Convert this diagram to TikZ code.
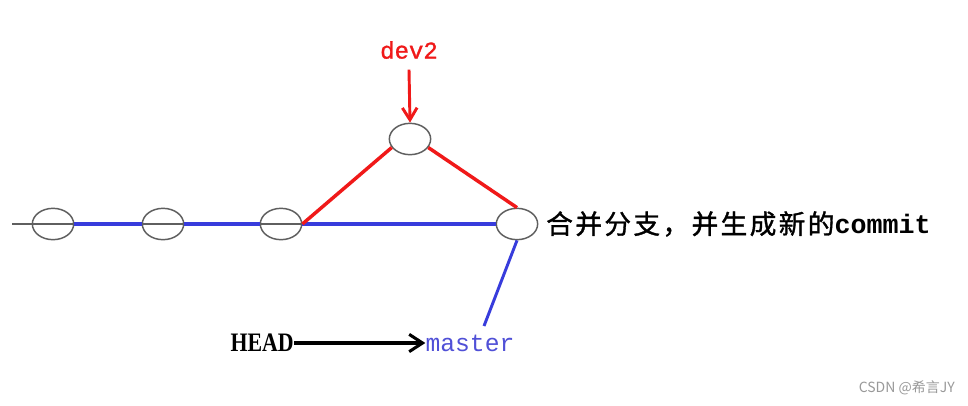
\documentclass[tikz,border=0pt]{standalone}
\usepackage{fontspec}
\usetikzlibrary{shapes.geometric,arrows.meta}
\newfontfamily\cjkf[LetterSpace=9,FakeBold=1.3]{Noto Sans CJK SC}
\newfontfamily\wmf{Noto Sans CJK SC}
\newfontfamily\monof{Liberation Mono}
\newfontfamily\monofb[FakeBold=1.2]{Liberation Mono}
\newfontfamily\serbf{Liberation Serif}
\definecolor{cblue}{RGB}{55,60,220}
\definecolor{cred}{RGB}{240,25,25}
\definecolor{cgray}{RGB}{95,95,95}
\definecolor{mblue}{RGB}{80,80,215}
\begin{document}
\begin{tikzpicture}[x=0.75pt,y=-0.75pt,
  commitnode/.style={ellipse,draw=cgray,line width=1.1pt,fill=none,minimum width=31pt,minimum height=23.5pt,inner sep=0pt},
  blueline/.style={cblue,line width=2.6pt},
  redline/.style={cred,line width=2.6pt},
  grayline/.style={cgray,line width=1pt}]
\useasboundingbox (0,0) rectangle (968,405);
\fill[white] (0,0) rectangle (968,405);
% commits
\node[commitnode] (c1) at (53,224) {};
\node[commitnode] (c2) at (163,224) {};
\node[commitnode] (c3) at (281,224) {};
\node[commitnode] (c4) at (410,139) {};
\node[commitnode] (c5) at (517,224) {};
\coordinate (start) at (12,224);
% main line
\draw[grayline] (start) -- (c3.east);
\draw[blueline] (c1.east) -- (c2.west);
\draw[blueline] (c2.east) -- (c3.west);
\draw[blueline] (c3.east) -- (c5.west);
% branch
\draw[redline] (c3.east) -- (c4.205);
\draw[redline] (c4.-25) -- (c5.north);
% labels
\node[text=cred,font={\monofb\fontsize{18pt}{20pt}\selectfont}] (dev) at (409,50) {dev2};
\draw[cred,line width=2.2pt,-{Straight Barb[length=9pt,width=11pt,line width=2.2pt]}] (dev.south) ++(0,6) coordinate (d1) (d1) -- (c4.north);
\node[anchor=west,inner sep=0pt,font={\fontsize{20pt}{22pt}\selectfont}] (msg) at (546,224) {{\cjkf 合并分支，并生成新的}{\monof\bfseries commit}};
\node[text=mblue,inner sep=0pt,font={\monof\fontsize{18.5pt}{20pt}\selectfont}] (master) at (470,343) {master};
\coordinate (m1) at (484,326);
\draw[blueline,line width=2.2pt] (c5.south) -- (m1);
\node[inner sep=0pt,anchor=east,font={\serbf\bfseries\fontsize{20pt}{22pt}\selectfont}] (head) at (294,343) {\scalebox{0.82}[1]{HEAD}};
\draw[black,line width=2.3pt,-{Straight Barb[length=10pt,width=13pt,line width=2.3pt]}] (head.east) -- (master.west);
\node[anchor=east,text=gray!80,inner sep=0pt,font={\wmf\fontsize{10.5pt}{12pt}\selectfont}] (wm) at (955,388) {CSDN @希言JY};
\end{tikzpicture}
\end{document}
